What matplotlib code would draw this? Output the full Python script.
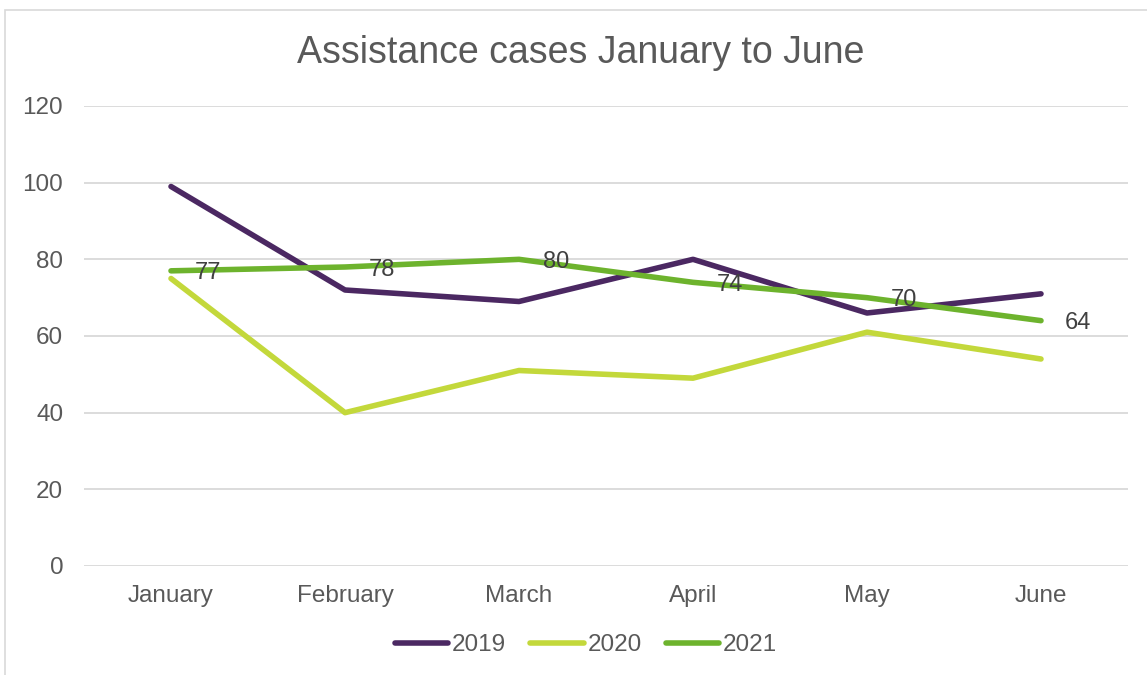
import matplotlib.pyplot as plt
from matplotlib.patches import Rectangle

plt.rcParams['font.family'] = ['Liberation Sans', 'DejaVu Sans']

months = ['January', 'February', 'March', 'April', 'May', 'June']
cases_2019 = [99, 72, 69, 80, 66, 71]
cases_2020 = [75, 40, 51, 49, 61, 54]
cases_2021 = [77, 78, 80, 74, 70, 64]

grey = '#595959'
col_2019 = '#4B2862'
col_2020 = '#C3D83B'
col_2021 = '#6DB32D'

fig = plt.figure(figsize=(11.47, 6.75), dpi=100)
# light frame round the chart, like the Excel chart area
fig.patches.append(Rectangle((5 / 1147, -0.05), 1.2, 1.05 - 10 / 675,
                             transform=fig.transFigure, fill=False,
                             edgecolor='#D9D9D9', linewidth=1.2))

ax = fig.add_axes([84 / 1147, 109 / 675, 1044 / 1147, 460 / 675])
x = list(range(len(months)))

ax.plot(x, cases_2019, color=col_2019, lw=4, solid_capstyle='round', label='2019')
ax.plot(x, cases_2020, color=col_2020, lw=4, solid_capstyle='round', label='2020')
ax.plot(x, cases_2021, color=col_2021, lw=4, solid_capstyle='round', label='2021')

for xi, v in zip(x, cases_2021):
    ax.annotate(str(v), (xi, v), xytext=(17, 0), textcoords='offset points',
                ha='left', va='center_baseline', fontsize=17, color='#404040')

ax.set_xlim(-0.5, 5.5)
ax.set_ylim(0, 120)
ax.set_yticks(range(0, 121, 20))
ax.set_xticks(x)
ax.set_xticklabels(months)
ax.tick_params(axis='both', length=0, labelsize=17.5, labelcolor=grey)
ax.tick_params(axis='y', pad=15)
ax.tick_params(axis='x', pad=14)
ax.grid(axis='y', color='#D9D9D9', lw=1.3)
ax.set_axisbelow(True)
for s in ax.spines.values():
    s.set_visible(False)

fig.text(581 / 1147, 1 - 53 / 675, 'Assistance cases January to June',
         ha='center', va='center', fontsize=27, color=grey)

fig.legend(loc='center', bbox_to_anchor=(586 / 1147, 1 - 645 / 675), ncol=3,
           frameon=False, fontsize=17.5, labelcolor=grey, handlelength=2.2,
           handletextpad=0.15, columnspacing=1.0)

fig.savefig('out.png', dpi=100, facecolor='white')
